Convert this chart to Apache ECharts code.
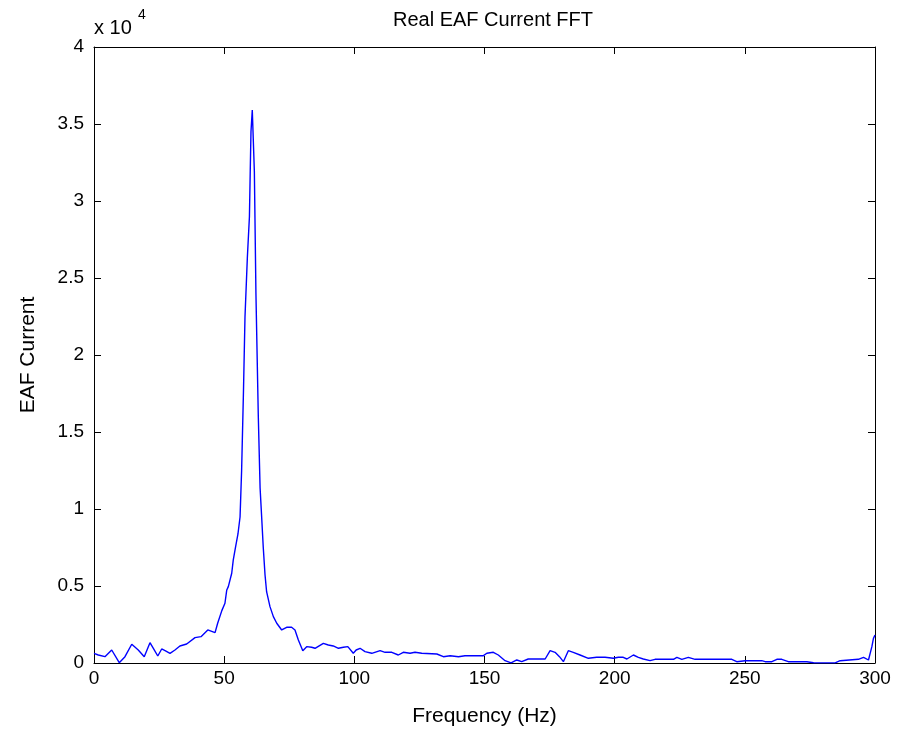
<!DOCTYPE html>
<html>
<head>
<meta charset="utf-8">
<script src="https://cdn.jsdelivr.net/npm/echarts@6/dist/echarts.min.js"></script>
<style>
html,body{margin:0;padding:0;background:#fff;}
#chart{width:900px;height:736px;}
</style>
</head>
<body>
<div id="chart"></div>
<script>
var chartTitle = 'Real EAF Current FFT';
var xName = 'Frequency (Hz)';
var yName = 'EAF Current';
var xTicks = [0, 50, 100, 150, 200, 250, 300];
var yTickLabels = ['0', '0.5', '1', '1.5', '2', '2.5', '3', '3.5', '4'];

var freqs = [0,1.65,4.2,6.8,9.7,11.9,14.5,17.0,19.3,21.5,22.8,24.5,26.0,27.3,29.2,31.1,33.0,35.6,38.8,41.1,43.7,46.5,47.5,49.1,50.3,51.0,51.6,52.9,53.5,54.4,55.3,56.1,56.7,57.4,58.0,58.9,59.7,60.0,60.3,60.8,61.6,62.2,63.1,63.8,64.4,65.0,65.7,66.3,67.6,68.9,70.2,72.1,74.0,75.9,77.2,78.5,80.2,81.7,83.6,84.9,88.1,90.0,91.9,93.9,95.8,97.5,99.6,100.7,102.2,104.1,106.7,109.9,111.8,114.4,116.9,118.8,121.4,123.3,125.9,131.7,134.2,136.8,140.0,142.5,149.6,150.9,153.4,155.3,157.9,160.2,162.4,164.3,166.8,173.3,175.2,177.1,178.8,180.3,182.2,184.1,186.7,189.9,193.1,196.3,199.5,201.4,203.3,204.7,207.2,209.1,211.0,213.6,215.5,222.6,223.9,225.8,228.3,230.9,245.0,246.9,250.1,256.5,257.8,260.4,262.3,264.2,266.7,273.8,276.4,284.7,286.6,293.6,295.6,297.5,298.8,299.4,300];
var amps = [630,520,410,845,20,410,1215,845,410,1320,955,455,910,800,630,845,1105,1235,1645,1710,2145,1970,2580,3400,3880,4745,4960,5830,6700,7560,8377,9480,12487,17532,22487,26300,28980,31818,34500,35909,31900,24006,16104,11364,9480,7552,5714,4630,3660,3010,2580,2145,2320,2320,2145,1495,800,1060,1020,955,1280,1170,1105,955,1020,1060,630,845,955,735,630,800,695,695,520,695,630,695,630,585,410,475,410,475,475,630,695,520,150,10,195,85,260,260,800,695,410,85,800,695,520,305,370,370,305,370,370,260,520,370,260,150,240,240,370,240,370,240,240,85,150,150,85,85,240,240,85,85,20,10,150,240,370,195,1060,1600,1820];

var seriesData = freqs.map(function (f, i) { return [f, amps[i]]; });

var font = 'Liberation Sans, Arial, sans-serif';
var chart = echarts.init(document.getElementById('chart'), null, {renderer: 'canvas'});

var baseX = {
  type: 'value', min: 0, max: 300, interval: 50,
  axisLine: {show: true, onZero: false, lineStyle: {color: '#000', width: 1}},
  axisTick: {show: true, inside: true, length: 7, lineStyle: {color: '#000'}},
  splitLine: {show: false}
};
var baseY = {
  type: 'value', min: 0, max: 40000, interval: 5000,
  axisLine: {show: true, onZero: false, lineStyle: {color: '#000', width: 1}},
  axisTick: {show: true, inside: true, length: 7, lineStyle: {color: '#000'}},
  splitLine: {show: false}
};

chart.setOption({
  animation: false,
  backgroundColor: '#fff',
  grid: {left: 94, top: 47, right: 25, bottom: 73, containLabel: false},
  graphic: [
    {type: 'text', x: 493, y: 10, style: {text: chartTitle, font: '20px ' + font, fill: '#000', align: 'center'}},
    {type: 'text', x: 94, y: 18, style: {text: 'x 10', font: '20px ' + font, fill: '#000'}},
    {type: 'text', x: 138, y: 8, style: {text: '4', font: '14px ' + font, fill: '#000'}}
  ],
  xAxis: [
    Object.assign({}, baseX, {
      position: 'bottom',
      name: xName, nameLocation: 'middle', nameGap: 43,
      nameTextStyle: {fontFamily: font, fontSize: 21, color: '#000'},
      axisLabel: {show: true, margin: 6, fontFamily: font, fontSize: 19, color: '#000',
        customValues: xTicks}
    }),
    Object.assign({}, baseX, {position: 'top', axisLabel: {show: false}})
  ],
  yAxis: [
    Object.assign({}, baseY, {
      position: 'left',
      name: yName, nameLocation: 'middle', nameGap: 55,
      nameTextStyle: {fontFamily: font, fontSize: 21, color: '#000'},
      axisLabel: {show: true, margin: 10, fontFamily: font, fontSize: 19, color: '#000',
        formatter: function (v) { return yTickLabels[Math.round(v / 5000)]; }}
    }),
    Object.assign({}, baseY, {position: 'right', axisLabel: {show: false}})
  ],
  series: [{
    type: 'line',
    data: seriesData,
    xAxisIndex: 0, yAxisIndex: 0,
    showSymbol: false, symbol: 'none',
    smooth: false,
    lineStyle: {color: '#0000ff', width: 1.4},
    clip: true
  }]
});
</script>
</body>
</html>
